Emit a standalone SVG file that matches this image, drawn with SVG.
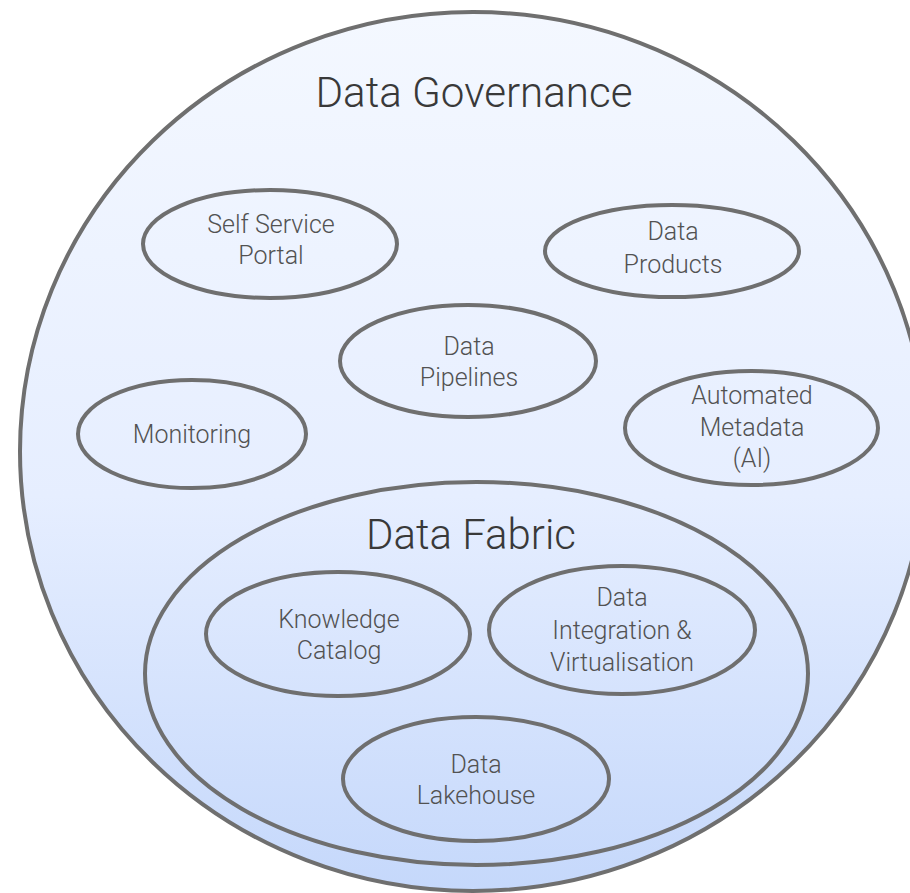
<svg xmlns="http://www.w3.org/2000/svg" width="910" height="893" viewBox="0 0 910 893">
<defs>
<linearGradient id="bg" gradientUnits="userSpaceOnUse" x1="0" y1="12" x2="0" y2="891">
<stop offset="0" stop-color="#f4f8ff"/>
<stop offset="0.55" stop-color="#e6eeff"/>
<stop offset="1" stop-color="#c5d8fb"/>
</linearGradient>
</defs>
<style>
.ring{fill:none;stroke:#6f6f6f;stroke-width:4}
.lbl{font-family:Roboto,"Noto Sans",sans-serif;font-weight:300;font-size:25px;fill:#525252;text-anchor:middle}
.ttl{font-family:Roboto,"Noto Sans",sans-serif;font-weight:300;font-size:43px;fill:#393939;text-anchor:middle}
</style>
<rect width="910" height="893" fill="#ffffff"/>
<g id="data-governance">
<ellipse cx="473" cy="451.5" rx="453" ry="439.5" fill="url(#bg)" stroke="#6f6f6f" stroke-width="4"/>
<text class="ttl" x="474" y="107" textLength="317" lengthAdjust="spacingAndGlyphs">Data Governance</text>
</g>
<g id="data-fabric">
<ellipse class="ring" cx="476.5" cy="673.5" rx="331.5" ry="191.5"/>
<text class="ttl" x="471" y="549" textLength="210" lengthAdjust="spacingAndGlyphs">Data Fabric</text>
</g>
<g id="self-service-portal">
<ellipse class="ring" cx="270" cy="244" rx="127" ry="54"/>
<text class="lbl" x="271" y="233">Self Service</text>
<text class="lbl" x="271" y="264">Portal</text>
</g>
<g id="data-products">
<ellipse class="ring" cx="672" cy="251" rx="127" ry="46"/>
<text class="lbl" x="673" y="240">Data</text>
<text class="lbl" x="673" y="273">Products</text>
</g>
<g id="data-pipelines">
<ellipse class="ring" cx="468" cy="361" rx="128" ry="56"/>
<text class="lbl" x="469" y="355">Data</text>
<text class="lbl" x="469" y="386">Pipelines</text>
</g>
<g id="monitoring">
<ellipse class="ring" cx="192" cy="434" rx="114" ry="54"/>
<text class="lbl" x="192" y="443">Monitoring</text>
</g>
<g id="automated-metadata">
<ellipse class="ring" cx="751.5" cy="428" rx="126.5" ry="57"/>
<text class="lbl" x="752" y="404">Automated</text>
<text class="lbl" x="752" y="436">Metadata</text>
<text class="lbl" x="752" y="467">(AI)</text>
</g>
<g id="knowledge-catalog">
<ellipse class="ring" cx="338" cy="634" rx="132" ry="62"/>
<text class="lbl" x="339" y="628">Knowledge</text>
<text class="lbl" x="339" y="659">Catalog</text>
</g>
<g id="data-integration">
<ellipse class="ring" cx="622" cy="630" rx="133" ry="64"/>
<text class="lbl" x="622" y="606">Data</text>
<text class="lbl" x="622" y="639">Integration &amp;</text>
<text class="lbl" x="622" y="671">Virtualisation</text>
</g>
<g id="data-lakehouse">
<ellipse class="ring" cx="476" cy="779" rx="133" ry="62"/>
<text class="lbl" x="476" y="773">Data</text>
<text class="lbl" x="476" y="804">Lakehouse</text>
</g>
<g id="connectors"/>
</svg>
